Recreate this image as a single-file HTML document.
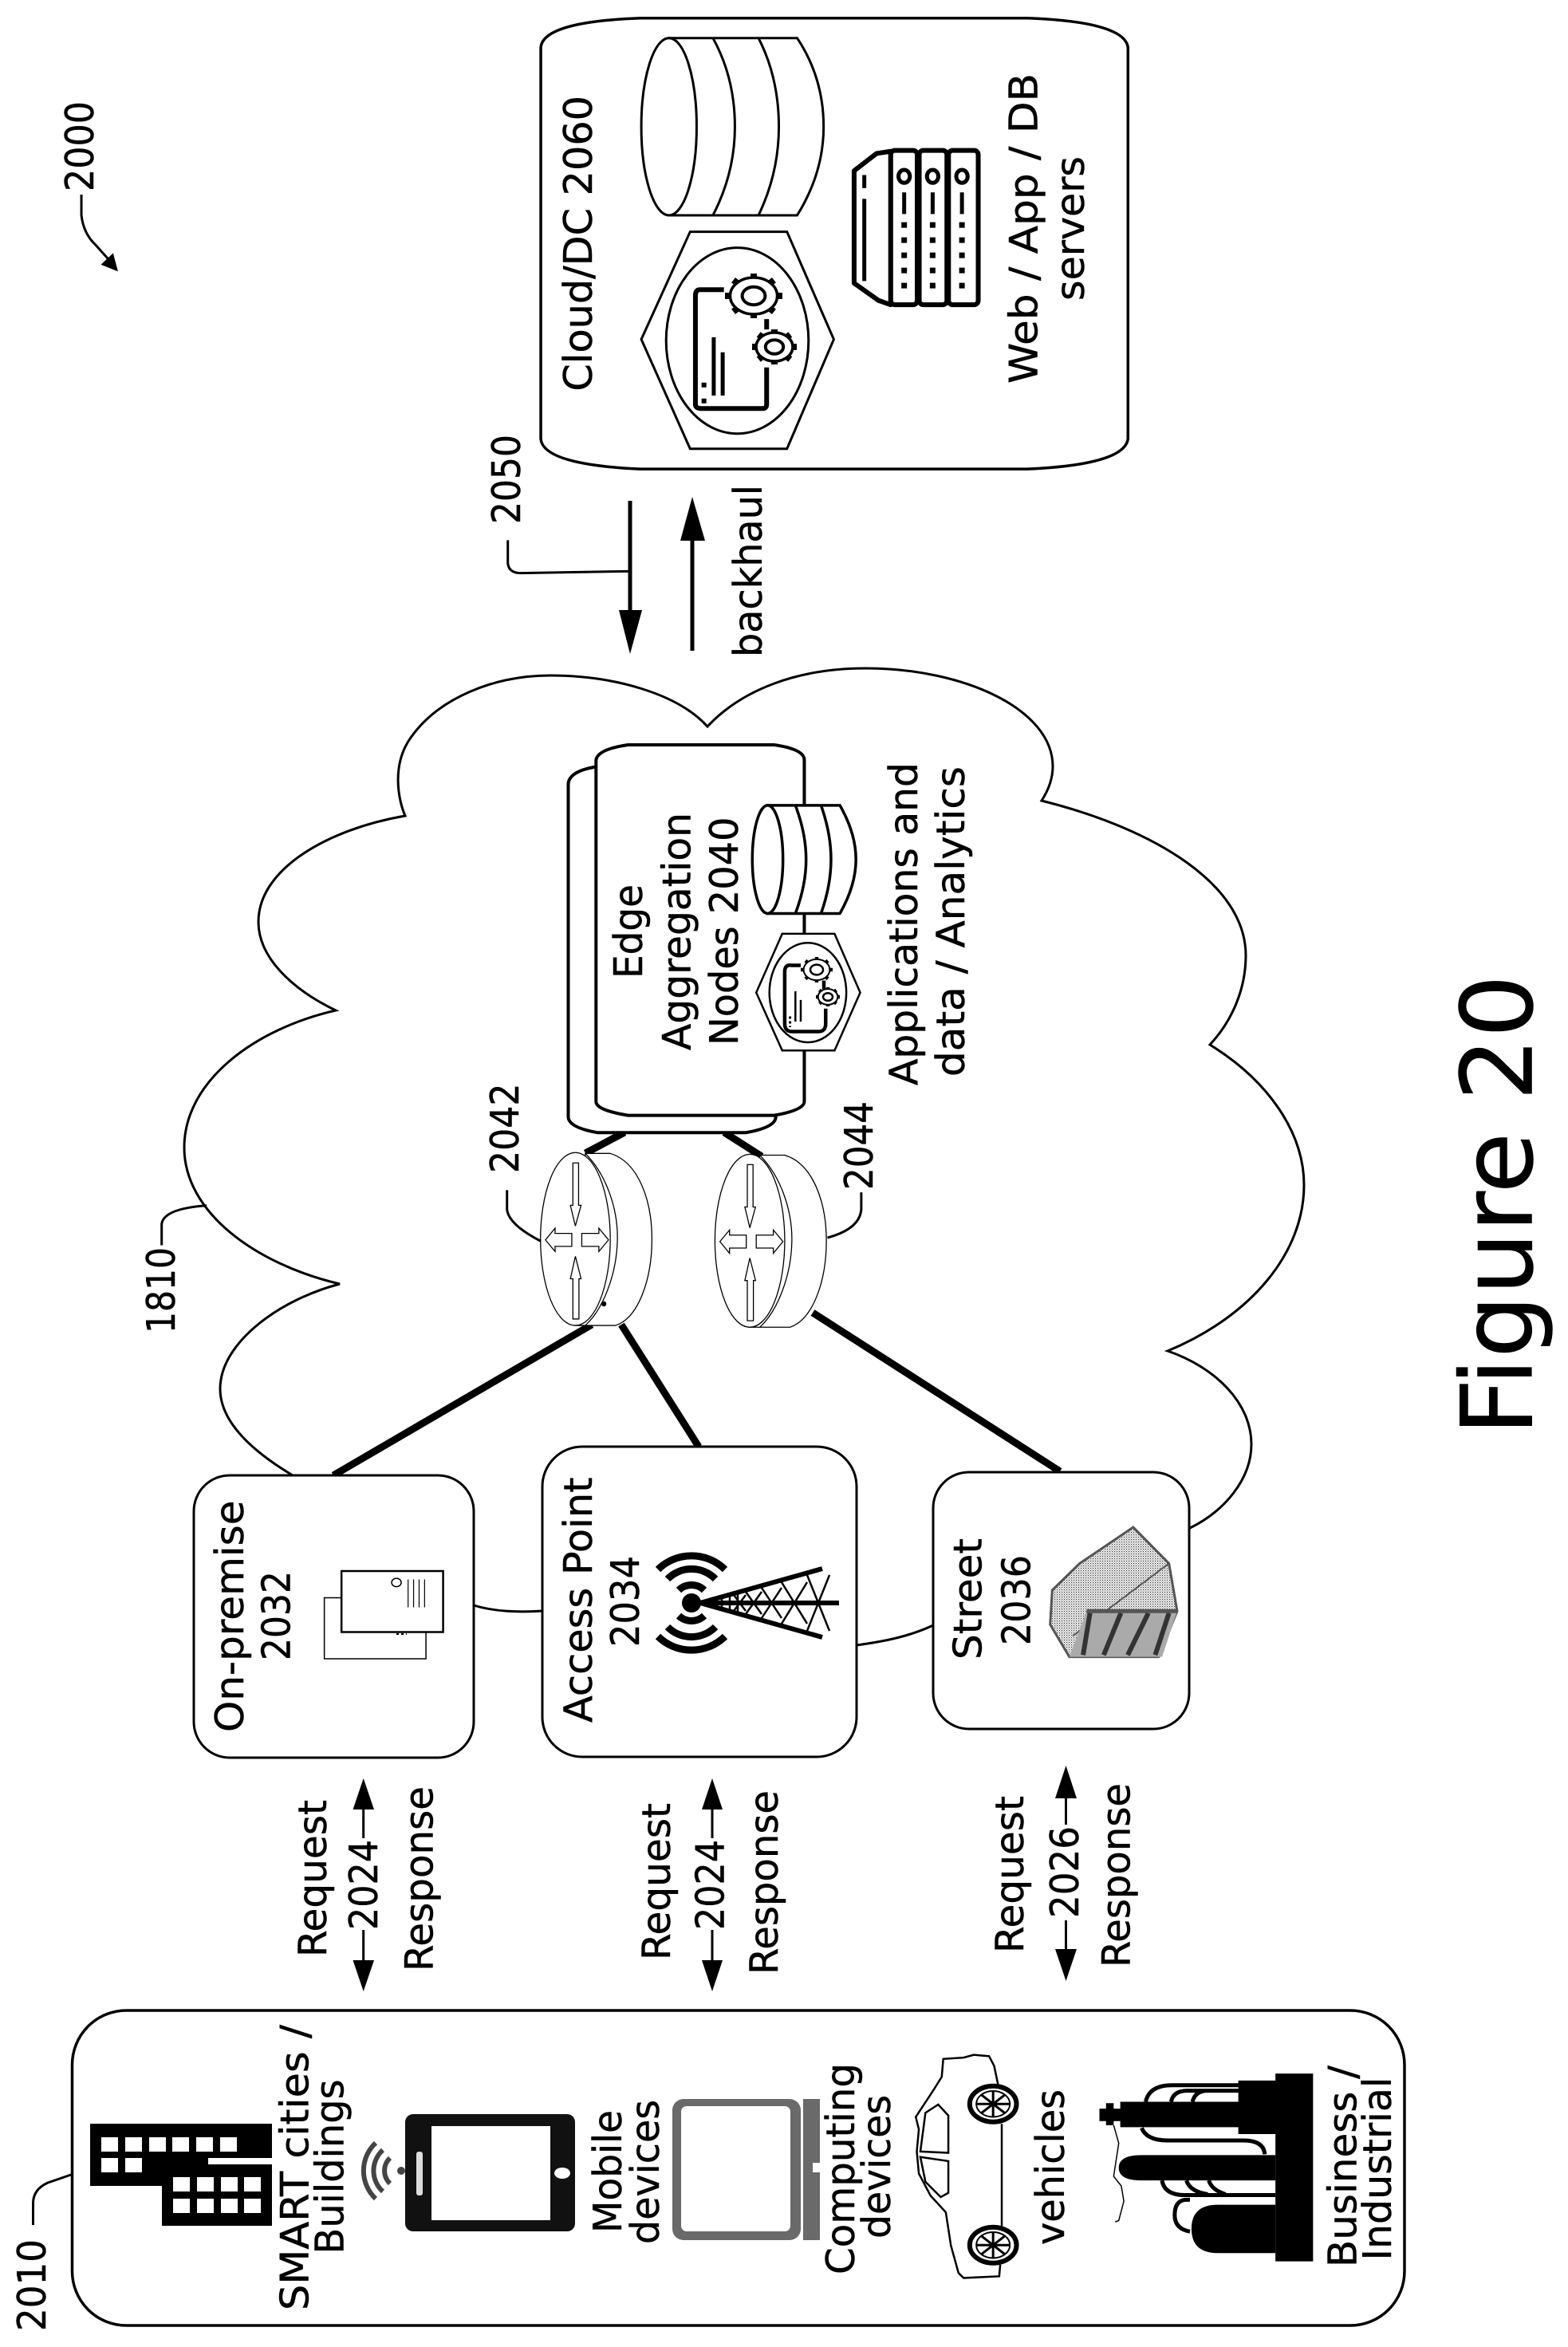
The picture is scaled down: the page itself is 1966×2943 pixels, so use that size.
<!DOCTYPE html>
<html lang="en"><head><meta charset="utf-8"><title>Figure 20</title>
<style>
html,body{margin:0;padding:0;background:#fff}
svg{display:block}
text{font-family:"DejaVu Sans","Liberation Sans",sans-serif;font-size:49px;fill:#000;stroke:#000;stroke-width:.5px}
.n *{vector-effect:non-scaling-stroke}
</style></head><body>
<svg xmlns="http://www.w3.org/2000/svg" xmlns:xlink="http://www.w3.org/1999/xlink" width="1966" height="2943" viewBox="0 0 1966 2943">
<defs>
<pattern id="st" patternUnits="userSpaceOnUse" width="3" height="3" patternTransform="scale(1.1614,2.09)"><rect width="3" height="3" fill="#fff"/><rect width="1.2" height="1.2" fill="#222"/><rect x="1.6" y="1.6" width="1" height="1" fill="#555"/></pattern>
<g id="gear"><path d="M.8,0L1,0M.566,.566L.707,.707M0,.8L0,1M-.566,.566L-.707,.707M-.8,0L-1,0M-.566,-.566L-.707,-.707M0,-.8L0,-1M.566,-.566L.707,-.707" fill="none" stroke="#000" stroke-width="8" vector-effect="non-scaling-stroke"/><circle r=".82" fill="#fff" stroke="#000" stroke-width="3.5" vector-effect="non-scaling-stroke"/><circle r=".4" fill="#fff" stroke="#000" stroke-width="4" vector-effect="non-scaling-stroke"/></g>
<g id="gears"><path d="M.8,0L1,0M.566,.566L.707,.707M0,.8L0,1M-.566,.566L-.707,.707M-.8,0L-1,0M-.566,-.566L-.707,-.707M0,-.8L0,-1M.566,-.566L.707,-.707" fill="none" stroke="#000" stroke-width="4.5" vector-effect="non-scaling-stroke"/><circle r=".82" fill="#fff" stroke="#000" stroke-width="2" vector-effect="non-scaling-stroke"/><circle r=".4" fill="#fff" stroke="#000" stroke-width="2.5" vector-effect="non-scaling-stroke"/></g>
<g id="router" class="n">
<path d="M300,1100L370,1100C450,1120 487,1210 487,1298C487,1390 450,1480 385,1498L270,1498Z" fill="#fff" stroke="#000" stroke-width="1.3"/>
<path d="M300,1100C360,1150 392,1230 390,1300C388,1380 350,1460 300,1498" fill="none" stroke="#000" stroke-width="1.3"/>
<ellipse cx="272" cy="1298" rx="98" ry="200" fill="#fff" stroke="#000" stroke-width="1.3"/>
<path d="M265,1122H281V1220H288L272,1268L258,1220H265ZM265,1483H282V1390H288L272,1338L258,1390H265ZM262,1285V1315H215V1327L188,1300L215,1273V1285ZM290,1285V1315H338V1327L365,1300L338,1273V1285Z" fill="#fff" stroke="#000" stroke-width="1.3"/>
</g>
</defs>

<!-- cloud -->
<path d="M367,1850C300,1810 270,1770 277,1730C285,1680 350,1630 426,1610C320,1585 231,1520 231,1439C231,1355 320,1290 421,1267C365,1240 324,1200 324,1156C324,1090 410,1040 508,1023C500,1005 490,960 515,925C550,875 620,847 690,847C770,847 850,870 887,911C930,865 1000,838 1085,838C1210,838 1320,890 1320,961C1320,975 1315,990 1306,1004C1450,1040 1562,1110 1562,1198C1562,1240 1545,1280 1517,1310C1590,1355 1635,1420 1635,1486C1635,1570 1570,1650 1464,1694C1525,1715 1569,1760 1569,1811C1569,1855 1535,1895 1492,1916" fill="none" stroke="#000" stroke-width="3"/>
<path d="M594,2013C620,2021 650,2022 680,2020M1074,2063C1110,2058 1140,2052 1170,2038" fill="none" stroke="#000" stroke-width="3"/>

<!-- thick links -->
<path d="M418,1850L742,1661M876,1814L779,1661M1329,1845L1019,1646M734,1446L783,1420M908,1420L955,1450" fill="none" stroke="#000" stroke-width="9"/>

<!-- device box -->
<rect x="90.5" y="2521" width="1670.5" height="395" rx="68" ry="68" fill="#fff" stroke="#000" stroke-width="3.5"/>
<path d="M41.5,2790V2762Q42,2745 60,2737L89,2727" fill="none" stroke="#000" stroke-width="3"/>
<text transform="translate(57,2923) rotate(-90)" textLength="115" lengthAdjust="spacingAndGlyphs">2010</text>

<!-- buildings -->
<path d="M113,2663H341V2706H261V2741H113Z"/>
<path d="M203,2714H341V2791H203Z"/>
<g fill="#fff">
<rect x="127" y="2680" width="21" height="18"/><rect x="157" y="2680" width="21" height="18"/><rect x="187" y="2680" width="21" height="18"/><rect x="216" y="2680" width="21" height="18"/><rect x="246" y="2680" width="21" height="18"/><rect x="276" y="2680" width="21" height="18"/>
<rect x="127" y="2706" width="21" height="18"/><rect x="157" y="2706" width="21" height="18"/>
<rect x="217" y="2730" width="21" height="18"/><rect x="247" y="2730" width="21" height="18"/><rect x="277" y="2730" width="21" height="18"/><rect x="306" y="2730" width="21" height="18"/>
<rect x="217" y="2757" width="21" height="18"/><rect x="247" y="2757" width="21" height="18"/><rect x="277" y="2757" width="21" height="18"/><rect x="306" y="2757" width="21" height="18"/>
</g>
<text transform="translate(386.5,2897) rotate(-90)" textLength="358" lengthAdjust="spacingAndGlyphs">SMART cities /</text>
<text transform="translate(430.5,2826.5) rotate(-90)" textLength="219" lengthAdjust="spacingAndGlyphs">Buildings</text>

<!-- tablet -->
<path d="M471,2687A48,48 0 0 0 471,2757M480,2696A35,35 0 0 0 480,2748M489,2706A22,22 0 0 0 489,2738" fill="none" stroke="#444" stroke-width="6"/>
<circle cx="503" cy="2722" r="5" fill="#444"/>
<rect x="508" y="2651" width="213" height="147" rx="10" fill="#111"/>
<rect x="541" y="2666" width="149" height="118" fill="#fff"/>
<rect x="522" y="2698" width="8" height="55" rx="3" fill="#ddd"/>
<ellipse cx="705" cy="2725" rx="10" ry="7" fill="#fff"/>
<text transform="translate(779,2800) rotate(-90)" textLength="154" lengthAdjust="spacingAndGlyphs">Mobile</text>
<text transform="translate(826,2814) rotate(-90)" textLength="181" lengthAdjust="spacingAndGlyphs">devices</text>

<!-- monitor -->
<rect x="843" y="2632" width="161" height="177" rx="14" fill="#6a6a6a"/>
<rect x="854" y="2641" width="137" height="157" rx="7" fill="#fff"/>
<rect x="1007" y="2632" width="21" height="177" fill="#6a6a6a"/>
<rect x="1019" y="2712" width="9" height="12" fill="#fff"/>
<text transform="translate(1071,2852) rotate(-90)" textLength="265" lengthAdjust="spacingAndGlyphs">Computing</text>
<text transform="translate(1116,2807) rotate(-90)" textLength="180" lengthAdjust="spacingAndGlyphs">devices</text>

<!-- car -->
<g class="n" transform="translate(800,2400) scale(.6378,.3463)" fill="none" stroke="#000" stroke-width="2.5">
<path d="M712,1270L710,1312L640,1318L630,1300L615,1200L605,1080L575,1020L552,940L548,860L552,780L546,735L580,640L597,590L600,525L640,520L660,510L690,515L700,550L708,620M715,760L715,1130"/>
<path d="M555,860L610,865L610,730L590,690L565,720ZM555,880L610,895L610,1010L595,1025L565,970Z"/>
<g><ellipse cx="698" cy="688" rx="46" ry="65" stroke-width="6" fill="#fff"/><ellipse cx="698" cy="688" rx="33" ry="47" stroke-width="2"/><path d="M665,688H731M698,641V735M675,655L721,721M675,721L721,655" stroke-width="3"/></g>
<g><ellipse cx="698" cy="1199" rx="46" ry="65" stroke-width="6" fill="#fff"/><ellipse cx="698" cy="1199" rx="33" ry="47" stroke-width="2"/><path d="M665,1199H731M698,1152V1246M675,1166L721,1232M675,1232L721,1166" stroke-width="3"/></g>
</g>
<text transform="translate(1334,2815) rotate(-90)" textLength="195" lengthAdjust="spacingAndGlyphs">vehicles</text>

<!-- industrial -->
<g class="n" transform="translate(800,2400) scale(.6378,.3463)">
<path d="M1253,578H1327V1258H1253ZM1180,603H1253V797H1180ZM948,680H1180V772H948ZM907,705H948V750H907ZM920,685H935V765H920Z"/>
<path d="M1253,873H990Q945,873 945,919Q945,965 990,965H1253Z"/>
<path d="M1253,1053H1140Q1088,1053 1088,1140Q1088,1228 1140,1228H1253Z"/>
<path d="M1180,620H1050Q1005,620 998,680M1180,640H1080Q1052,640 1048,680M1180,640H1120Q1095,640 1090,680M990,775Q1000,820 1040,820H1190Q1230,820 1232,870M1030,965Q1035,1018 1075,1018H1253M1078,965Q1085,1005 1120,1015M1122,965Q1128,1000 1155,1015M1085,1035H1075Q1055,1040 1055,1090Q1055,1140 1085,1150" fill="none" stroke="#000" stroke-width="5"/>
<path d="M935,765L945,830L935,950L950,985L955,1040L945,1110L938,1115" fill="none" stroke="#000" stroke-width="1.5"/>
</g>
<text transform="translate(1700.5,2843) rotate(-90)" textLength="253" lengthAdjust="spacingAndGlyphs">Business /</text>
<text transform="translate(1744,2834.5) rotate(-90)" textLength="230" lengthAdjust="spacingAndGlyphs">Industrial</text>

<!-- request/response groups -->
<g fill="#000">
<path d="M455.7,2305V2269M455.7,2458V2420" stroke="#000" stroke-width="3"/>
<path d="M455.7,2230L469,2269H442.5ZM455.7,2497L469,2458H442.5Z"/>
<path d="M893,2305V2269M893,2458V2420" stroke="#000" stroke-width="3"/>
<path d="M893,2230L906,2269H880ZM893,2497L906,2458H880Z"/>
<path d="M1336.5,2288V2255M1336.5,2444V2408" stroke="#000" stroke-width="3"/>
<path d="M1336.5,2214L1350,2255H1323ZM1336.5,2484L1350,2444H1323Z"/>
</g>
<text transform="translate(409,2454) rotate(-90)" textLength="197" lengthAdjust="spacingAndGlyphs">Request</text>
<text transform="translate(473,2420) rotate(-90)" textLength="113" lengthAdjust="spacingAndGlyphs">2024</text>
<text transform="translate(542.6,2472) rotate(-90)" textLength="232" lengthAdjust="spacingAndGlyphs">Response</text>
<text transform="translate(840,2458) rotate(-90)" textLength="197" lengthAdjust="spacingAndGlyphs">Request</text>
<text transform="translate(907.7,2420) rotate(-90)" textLength="113" lengthAdjust="spacingAndGlyphs">2024</text>
<text transform="translate(975,2476) rotate(-90)" textLength="231" lengthAdjust="spacingAndGlyphs">Response</text>
<text transform="translate(1283,2449) rotate(-90)" textLength="197" lengthAdjust="spacingAndGlyphs">Request</text>
<text transform="translate(1352,2405) rotate(-90)" textLength="115" lengthAdjust="spacingAndGlyphs">2026</text>
<text transform="translate(1416.6,2467) rotate(-90)" textLength="231" lengthAdjust="spacingAndGlyphs">Response</text>

<!-- mid boxes -->
<rect x="243" y="1850" width="351" height="354" rx="45" fill="#fff" stroke="#000" stroke-width="3"/>
<rect x="680" y="1814" width="394" height="389" rx="50" fill="#fff" stroke="#000" stroke-width="3"/>
<rect x="1170" y="1846" width="321" height="322" rx="45" fill="#fff" stroke="#000" stroke-width="3"/>
<text transform="translate(305,2172) rotate(-90)" textLength="290.5" lengthAdjust="spacingAndGlyphs">On-premise</text>
<text transform="translate(363.6,2082) rotate(-90)" textLength="112" lengthAdjust="spacingAndGlyphs">2032</text>
<text transform="translate(742,2160) rotate(-90)" textLength="307.5" lengthAdjust="spacingAndGlyphs">Access Point</text>
<text transform="translate(801,2065) rotate(-90)" textLength="114" lengthAdjust="spacingAndGlyphs">2034</text>
<text transform="translate(1230.6,2081) rotate(-90)" textLength="152" lengthAdjust="spacingAndGlyphs">Street</text>
<text transform="translate(1291.7,2063) rotate(-90)" textLength="113" lengthAdjust="spacingAndGlyphs">2036</text>

<!-- on-prem icon -->
<g class="n" transform="translate(200,1750) scale(.861,.4783)" fill="#fff" stroke="#000">
<rect x="240" y="530" width="148" height="160" stroke-width="1.5"/>
<rect x="265" y="460" width="148" height="160" stroke-width="2.5"/>
<ellipse cx="345" cy="490" rx="7" ry="11" stroke-width="1.5"/>
<path d="M362,482V555M370,482V555M378,482V555M386,482V555" stroke-width="1.2"/>
<path d="M345,625H360" stroke-width="2" stroke-dasharray="3 3"/>
</g>

<!-- tower -->
<g fill="none" stroke="#000">
<path d="M825,1968A60,60 0 0 1 909,1968M837,1980A42,42 0 0 1 897,1980M851,1994A23,23 0 0 1 883,1994M825,2052A60,60 0 0 0 909,2052M837,2040A42,42 0 0 0 897,2040M851,2026A23,23 0 0 0 883,2026" stroke-width="9"/>
<circle cx="867" cy="2010" r="12" fill="#000" stroke="none"/>
<path d="M878,2010L1031,1967M878,2010L1031,2053M878,2010H1052" stroke-width="6"/>
<path d="M1012,1975L1040,2045M1012,2045L1040,1975M980,1984L1012,2036M980,2036L1012,1984M955,1991L980,2029M955,2029L980,1991M935,1996L955,2024M935,2024L955,1996M920,2000L935,2020M920,2020L935,2000M905,2003V2017M915,2000V2020M925,1998V2022" stroke-width="2.5"/>
</g>

<!-- street icon -->
<g class="n" transform="translate(200,1750) scale(.861,.4783)">
<path d="M1418,345L1470,440L1482,565L1455,685L1325,685L1297,600L1300,510L1340,440Z" fill="url(#st)" stroke="#555" stroke-width="3"/>
<path d="M1330,630L1470,440" stroke="#555" stroke-width="2" fill="none"/>
<path d="M1350,565H1482L1460,685H1325Z" fill="#aaa"/>
<path d="M1355,570L1345,680M1400,570L1375,680M1440,570L1410,680M1470,570L1450,680" stroke="#333" stroke-width="6" fill="none"/>
<path d="M1350,565H1482" stroke="#555" stroke-width="5" fill="none"/>
</g>

<!-- edge -->
<g class="n" transform="translate(600,850) scale(.4464,.5421)" fill="#fff" stroke="#000" stroke-width="4">
<path d="M252,245Q255,215 335,205L750,205Q835,215 835,245L835,1015Q835,1040 750,1052L335,1052Q252,1040 252,1015Z"/>
<path d="M330,190Q335,165 420,155L830,155Q915,165 915,190L915,980Q915,1000 830,1012L420,1012Q330,1000 330,980Z"/>
<path d="M812,295H1015Q1060,360 1060,420Q1060,480 1015,545H812Z" stroke-width="3.5"/>
<path d="M890,295Q920,360 920,420Q920,480 890,545M962,295Q990,360 990,420Q990,480 962,545" fill="none" stroke-width="3.5"/>
<ellipse cx="812" cy="420" rx="43" ry="125" stroke-width="3.5"/>
<path d="M780,728L853,592H1000L1072,728L1000,862H853Z" stroke-width="2.5"/>
<ellipse cx="925" cy="728" rx="108" ry="115" stroke-width="2.5"/>
<path d="M905,665H880Q860,662 860,680V800Q860,818 880,818H955Q975,818 975,800V765M970,700V720" fill="none" stroke-width="4.5"/>
<path d="M890,725V795M905,745V795" stroke-width="2.5" fill="none"/>
<path d="M875,783V808" stroke-width="3" stroke-dasharray="3 3" fill="none"/>
</g>
<use xlink:href="#gears" href="#gears" transform="translate(1024,1216) scale(20,16)"/>
<use xlink:href="#gears" href="#gears" transform="translate(1038,1250) scale(15,12)"/>
<text transform="translate(805,1227) rotate(-90)" textLength="118" lengthAdjust="spacingAndGlyphs">Edge</text>
<text transform="translate(865.6,1317) rotate(-90)" textLength="298" lengthAdjust="spacingAndGlyphs">Aggregation</text>
<text transform="translate(925,1311) rotate(-90)" textLength="286.5" lengthAdjust="spacingAndGlyphs">Nodes 2040</text>
<text transform="translate(1150,1361) rotate(-90)" textLength="405" lengthAdjust="spacingAndGlyphs">Applications and</text>
<text transform="translate(1209,1350) rotate(-90)" textLength="389" lengthAdjust="spacingAndGlyphs">data / Analytics</text>

<!-- routers -->
<g transform="translate(600,850) scale(.4464,.5421)">
<use xlink:href="#router" href="#router"/>
<use xlink:href="#router" href="#router" transform="translate(490,4)"/>
<ellipse cx="352" cy="1448" rx="7" ry="6"/>
<g class="n"><path d="M80,1185V1230Q85,1265 175,1303M1075,1190V1230Q1070,1275 980,1295" fill="none" stroke="#000" stroke-width="3"/></g>
</g>
<text transform="translate(650,1471) rotate(-90)" textLength="112.5" lengthAdjust="spacingAndGlyphs">2042</text>
<text transform="translate(1094,1492) rotate(-90)" textLength="111" lengthAdjust="spacingAndGlyphs">2044</text>

<!-- 1810 leader -->
<g class="n" transform="translate(150,800) scale(.9247,.7653)"><path d="M57,995V960Q60,935 118,930" fill="none" stroke="#000" stroke-width="3"/></g>
<text transform="translate(219,1672) rotate(-90)" textLength="108" lengthAdjust="spacingAndGlyphs">1810</text>

<!-- 2000 -->
<text transform="translate(117,240) rotate(-90)" textLength="113" lengthAdjust="spacingAndGlyphs">2000</text>
<g class="n" transform="scale(.5102,.574)">
<path d="M200,425V470Q205,510 235,535L270,570" fill="none" stroke="#000" stroke-width="3"/>
<path d="M290,593L248,578L278,553Z"/>
<path d="M1248,1180V1230Q1250,1252 1280,1252L1545,1248" fill="none" stroke="#000" stroke-width="3"/>
</g>
<text transform="translate(652,657) rotate(-90)" textLength="112" lengthAdjust="spacingAndGlyphs">2050</text>

<!-- cloud/dc -->
<g class="n" transform="translate(650,0) scale(.5102,.5421)" stroke="#000" fill="#fff">
<path d="M55,110Q60,50 300,42H1250Q1490,50 1498,110V1015Q1490,1075 1250,1085H300Q60,1075 55,1015Z" stroke-width="3.5"/>
<path d="M370,88H685Q750,180 750,293Q750,400 685,498H370Z" stroke-width="3"/>
<path d="M478,88Q532,180 532,293Q532,400 478,498M590,88Q640,180 640,293Q640,400 590,498" fill="none" stroke-width="3"/>
<ellipse cx="370" cy="293" rx="68" ry="205" stroke-width="3"/>
<path d="M302,785L422,536H660L775,785L660,1038H422Z" stroke-width="3"/>
<ellipse cx="538" cy="788" rx="175" ry="215" stroke-width="3"/>
<path d="M505,670H445Q435,670 435,685V935Q435,945 450,945H600Q610,945 610,935V850M610,738V762" fill="none" stroke-width="6"/>
<path d="M480,780V915M502,815V915" fill="none" stroke-width="5"/>
<path d="M456,885V935" fill="none" stroke-width="6" stroke-dasharray="6 14"/>
<path d="M825,395L880,355L915,350V705L885,695L825,655Z" stroke-width="6" stroke-linejoin="round"/>
<rect x="915" y="348" width="65" height="357" rx="10" stroke-width="6"/>
<rect x="985" y="348" width="68" height="357" rx="10" stroke-width="6"/>
<rect x="1057" y="348" width="73" height="357" rx="10" stroke-width="6"/>
<ellipse cx="948" cy="408" rx="14" ry="15" stroke-width="5"/><ellipse cx="1018" cy="408" rx="14" ry="15" stroke-width="5"/><ellipse cx="1090" cy="408" rx="14" ry="15" stroke-width="5"/>
<path d="M948,445V495M1018,445V495M1090,445V495M850,405V435M850,460V650" fill="none" stroke-width="5"/>
<path d="M948,514V668M1018,514V668M1090,514V668" fill="none" stroke-width="7" stroke-dasharray="7 12"/>
</g>
<use xlink:href="#gear" href="#gear" transform="translate(945,371) scale(36,28)"/>
<use xlink:href="#gear" href="#gear" transform="translate(971,435) scale(28,22)"/>
<text transform="translate(742,490.6) rotate(-90)" textLength="370.6" lengthAdjust="spacingAndGlyphs">Cloud/DC 2060</text>
<text transform="translate(1300.5,481) rotate(-90)" textLength="389" lengthAdjust="spacingAndGlyphs">Web / App / DB</text>
<text transform="translate(1359,377) rotate(-90)" textLength="181" lengthAdjust="spacingAndGlyphs">servers</text>

<!-- backhaul arrows -->
<path d="M790,628V770M868,816V672" fill="none" stroke="#000" stroke-width="5"/>
<path d="M790,820L776,765H805ZM868,623L853,678H884Z"/>
<text transform="translate(955,824) rotate(-90)" textLength="216" lengthAdjust="spacingAndGlyphs">backhaul</text>

<!-- figure label -->
<text transform="translate(1920.5,1800) rotate(-90)" textLength="578" lengthAdjust="spacingAndGlyphs" style="font-size:124px">Figure 20</text>
</svg>
</body></html>
